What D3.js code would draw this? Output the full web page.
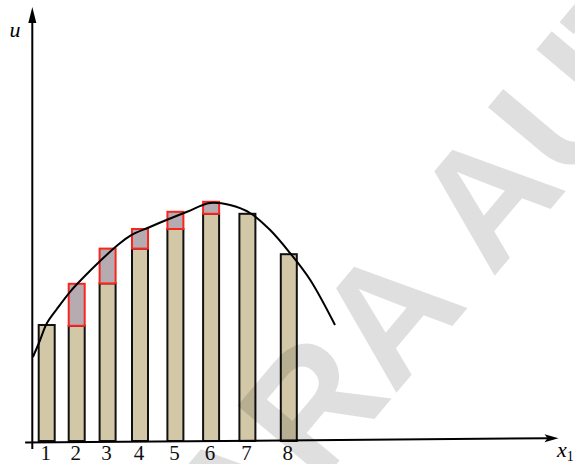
<!DOCTYPE html>
<html>
<head>
<meta charset="utf-8">
<script src="https://cdn.jsdelivr.net/npm/d3@7"></script>
<style>
  html, body { margin: 0; padding: 0; background: #fff; }
  svg { display: block; }
</style>
</head>
<body>
<svg id="chart" width="575" height="464"></svg>
<script>
// Bar positions along x1, tick labels and heights u
const xLabels   = ["1", "2", "3", "4", "5", "6", "7", "8"];
const barX      = [0.49, 1.49, 2.52, 3.6, 4.78, 5.97, 7.18, 8.56];
const barValues = [2.9, 2.88, 3.94, 4.81, 5.3, 5.68, 5.68, 4.67];
// Upper edge of the highlighted gap drawn on top of a bar (null = none)
const gapTops   = [null, 3.93, 4.81, 5.3, 5.73, 5.98, null, null];
// Smooth curve u(x1)
const curveX = [0.03, 0.23, 0.5, 0.83, 1.27, 1.77, 2.27, 2.83, 3.27, 3.93, 4.5, 5.17, 5.93, 6.6, 7.27, 7.93, 8.6, 9.27, 10.1];
const curveY = [2.1, 2.45, 2.95, 3.3, 3.73, 4.13, 4.5, 4.88, 5.13, 5.35, 5.53, 5.73, 5.95, 5.9, 5.7, 5.28, 4.7, 4.03, 2.9];

const svg = d3.select("#chart");

const x = d3.scaleLinear().domain([0, 17.6]).range([32, 560]);
const y = d3.scaleLinear().domain([0, 10.85]).range([441, 7]);

const barW = 16;
const serif = "'Liberation Serif', 'DejaVu Serif', serif";

// Bars
const bars = barX.map((bx, i) => ({ x: bx, v: barValues[i], top: gapTops[i], label: xLabels[i] }));

svg.append("g").selectAll("rect")
  .data(bars)
  .join("rect")
  .attr("x", d => x(d.x) - barW / 2)
  .attr("y", d => y(d.v))
  .attr("width", barW)
  .attr("height", d => y(0) - y(d.v))
  .attr("fill", "#d2c8a7")
  .attr("stroke", "#111")
  .attr("stroke-width", 2);

// Gap boxes between each bar top and the next level
svg.append("g").selectAll("rect")
  .data(bars.filter(d => d.top !== null))
  .join("rect")
  .attr("x", d => x(d.x) - barW / 2)
  .attr("y", d => y(d.top))
  .attr("width", barW)
  .attr("height", d => y(d.v) - y(d.top))
  .attr("fill", "#b5abb0")
  .attr("stroke", "#f7261e")
  .attr("stroke-width", 2);

// Curve
const line = d3.line()
  .x(d => x(d[0]))
  .y(d => y(d[1]))
  .curve(d3.curveCatmullRom.alpha(0.5));

svg.append("path")
  .datum(curveX.map((cx, i) => [cx, curveY[i]]))
  .attr("d", line)
  .attr("fill", "none")
  .attr("stroke", "#000")
  .attr("stroke-width", 2);

// Axes
const axes = svg.append("g").attr("stroke", "#000").attr("stroke-width", 2);
axes.append("line")
  .attr("x1", x(0.01)).attr("y1", y(-0.2))
  .attr("x2", x(0.01)).attr("y2", y(10.45));
axes.append("path")
  .attr("d", `M${x(0.01)},${y(10.85)} L${x(0.01) - 4},${y(10.45)} L${x(0.01) + 4},${y(10.45)} Z`)
  .attr("fill", "#000").attr("stroke", "none");

const xa0 = [x(-0.23), y(-0.04)];
const xa1 = [x(17.55), y(0.07)];
axes.append("line")
  .attr("x1", xa0[0]).attr("y1", xa0[1])
  .attr("x2", xa1[0] - 10).attr("y2", xa1[1]);
axes.append("path")
  .attr("d", `M${xa1[0]},${xa1[1]} L${xa1[0] - 14},${xa1[1] - 4} L${xa1[0] - 11},${xa1[1]} L${xa1[0] - 14},${xa1[1] + 4} Z`)
  .attr("fill", "#000").attr("stroke", "none");

// Tick labels
svg.append("g").selectAll("text")
  .data(bars)
  .join("text")
  .attr("x", d => x(d.x) - 1)
  .attr("y", 460)
  .attr("text-anchor", "middle")
  .attr("font-family", serif)
  .attr("font-size", 21)
  .attr("fill", "#111")
  .text(d => d.label);

// Axis names
svg.append("text")
  .attr("x", 15).attr("y", 37)
  .attr("text-anchor", "middle")
  .attr("font-family", serif)
  .attr("font-style", "italic")
  .attr("font-size", 22)
  .text("u");

const xName = svg.append("text")
  .attr("x", 557).attr("y", 457)
  .attr("font-family", serif)
  .attr("font-size", 22);
xName.append("tspan").attr("font-style", "italic").text("x");
xName.append("tspan").attr("font-size", 14).attr("dy", 4).text("1");

// Watermark (rotated, translucent)
const wm = svg.append("g").attr("opacity", 0.12).append("text")
  .attr("font-family", "'Liberation Sans', Arial, sans-serif")
  .attr("font-weight", "bold")
  .attr("font-size", 165)
  .attr("fill", "#000")
  .text("PARA AUTOR");
const angle = -50;
const lead = wm.node().getSubStringLength(0, 5);
const ax = 492, ay = 279;
const rad = angle * Math.PI / 180;
wm.attr("transform",
  `translate(${ax - lead * Math.cos(rad)},${ay - lead * Math.sin(rad)}) rotate(${angle})`);
</script>
</body>
</html>
